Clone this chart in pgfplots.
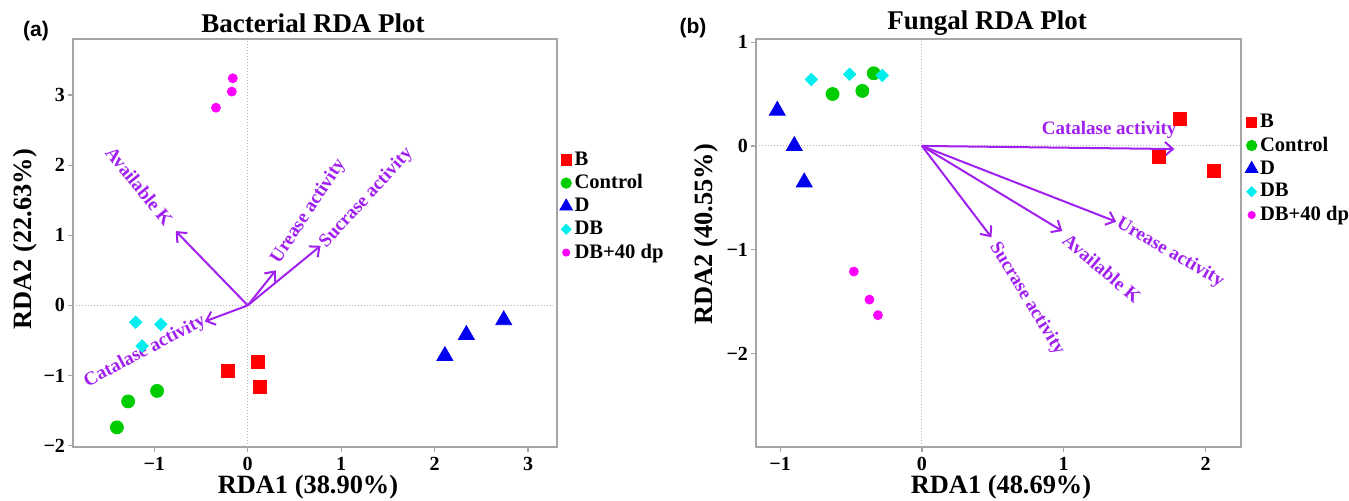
\documentclass[border=0pt]{standalone}
\usepackage{fontspec}
\setmainfont{Liberation Serif}
\newfontfamily\arialfont{Liberation Sans}
\usepackage{pgfplots}
\pgfplotsset{compat=1.18}
\usetikzlibrary{arrows.meta}
\definecolor{rpurple}{RGB}{160,32,240}
\definecolor{rred}{RGB}{255,0,0}
\definecolor{rgreen}{RGB}{0,205,0}
\definecolor{rblue}{RGB}{0,0,238}
\definecolor{rcyan}{RGB}{0,238,238}
\definecolor{rmag}{RGB}{255,0,255}
\tikzset{lab/.style={rpurple, font=\fontsize{9.5}{11}\selectfont\bfseries, inner sep=0pt}}
\pgfplotsset{
  rdastyle/.style={
    scale only axis, width=242pt, height=204pt,
    axis line style={gray!70, line width=0.6pt},
    tick style={gray!70, line width=0.6pt},
    tick align=outside, major tick length=2.5pt,
    xtick pos=bottom, ytick pos=left,
    tick label style={font=\fontsize{10}{12}\selectfont\bfseries},
    xticklabel style={yshift=1pt},
    yticklabel style={xshift=2pt},
    legend cell align=left,
    legend style={draw=none, fill=none, font=\fontsize{10.3}{12}\selectfont\bfseries, inner sep=0pt, row sep=1.2pt, nodes={inner sep=1pt}},
    legend image code/.code={\draw[##1, every mark/.append style={scale=0.8}] plot coordinates {(0.1cm,0cm)};},
  },
  arr/.style={rpurple, line width=1pt, -{Straight Barb[length=4pt,width=7pt,line width=1pt]}, forget plot},
  zl/.style={gray!60, densely dotted, line width=0.5pt, forget plot},
}
\begin{document}
\begin{tikzpicture}
\useasboundingbox (0,0) rectangle (674.5pt,250pt);
% ---------------- Left panel ----------------
\begin{axis}[rdastyle, at={(36.5pt,26.5pt)}, anchor=south west,
  xmin=-1.87, xmax=3.31, ymin=-2.02, ymax=3.80,
  xtick={-1,0,1,2,3}, xticklabels={−1,0,1,2,3},
  ytick={-2,-1,0,1,2,3}, yticklabels={−2,−1,0,1,2,3},
  legend style={at={(1.005,0.73)}, anchor=north west}]
\addplot[zl] coordinates {(-1.87,0) (3.31,0)};
\addplot[zl] coordinates {(0,-2.02) (0,3.80)};
\addplot[only marks, mark=square*, mark size=3.25pt, color=rred] coordinates {(-0.21,-0.94) (0.11,-0.81) (0.13,-1.16)};
\addlegendentry{B}
\addplot[only marks, mark=*, mark size=3.25pt, color=rgreen] coordinates {(-0.97,-1.22) (-1.28,-1.37) (-1.40,-1.74)};
\addlegendentry{Control}
\addplot[only marks, mark=triangle*, mark size=4.6pt, color=rblue] coordinates {(2.11,-0.72) (2.34,-0.42) (2.74,-0.21)};
\addlegendentry{D}
\addplot[only marks, mark=square*, mark size=2.2pt, mark options={rotate=45}, color=rcyan] coordinates {(-1.20,-0.24) (-0.93,-0.27) (-1.13,-0.58)};
\addlegendentry{DB}
\addplot[only marks, mark=*, mark size=2.25pt, color=rmag] coordinates {(-0.16,3.24) (-0.17,3.05) (-0.34,2.82)};
\addlegendentry{DB+40 dp}
\addplot[arr] coordinates {(0,0) (-0.77,1.06)};
\addplot[arr] coordinates {(0,0) (0.30,0.50)};
\addplot[arr] coordinates {(0,0) (0.78,0.85)};
\addplot[arr] coordinates {(0,0) (-0.46,-0.23)};
\node[lab, rotate=-51] at (axis cs:-1.16,1.70) {Available K};
\node[lab, rotate=56.6] at (axis cs:0.65,1.34) {Urease activity};
\node[lab, rotate=47.5] at (axis cs:1.27,1.53) {Sucrase activity};
\node[lab, rotate=27.9] at (axis cs:-1.10,-0.66) {Catalase activity};
\end{axis}
% ---------------- Right panel ----------------
\begin{axis}[rdastyle, at={(378pt,26.5pt)}, anchor=south west, width=242.5pt,
  xmin=-1.17, xmax=2.25, ymin=-2.90, ymax=1.03,
  xtick={-1,0,1,2}, xticklabels={−1,0,1,2},
  ytick={-2,-1,0,1}, yticklabels={−2,−1,0,1},
  legend style={at={(1.008,0.822)}, anchor=north west}]
\addplot[zl] coordinates {(-1.17,0) (2.25,0)};
\addplot[zl] coordinates {(0,-2.90) (0,1.03)};
\addplot[only marks, mark=square*, mark size=3.25pt, color=rred] coordinates {(1.82,0.26) (1.67,-0.11) (2.06,-0.24)};
\addlegendentry{B}
\addplot[only marks, mark=*, mark size=3.25pt, color=rgreen] coordinates {(-0.63,0.50) (-0.42,0.53) (-0.34,0.70)};
\addlegendentry{Control}
\addplot[only marks, mark=triangle*, mark size=4.6pt, color=rblue] coordinates {(-1.02,0.34) (-0.90,0.00) (-0.83,-0.35)};
\addlegendentry{D}
\addplot[only marks, mark=square*, mark size=2.2pt, mark options={rotate=45}, color=rcyan] coordinates {(-0.78,0.64) (-0.51,0.69) (-0.28,0.68)};
\addlegendentry{DB}
\addplot[only marks, mark=*, mark size=2.25pt, color=rmag] coordinates {(-0.48,-1.21) (-0.37,-1.48) (-0.31,-1.63)};
\addlegendentry{DB+40 dp}
\addplot[arr] coordinates {(0,0) (1.78,-0.03)};
\addplot[arr] coordinates {(0,0) (1.37,-0.73)};
\addplot[arr] coordinates {(0,0) (0.99,-0.82)};
\addplot[arr] coordinates {(0,0) (0.49,-0.88)};
\node[lab] at (axis cs:1.32,0.15) {Catalase activity};
\node[lab, rotate=-30] at (axis cs:1.75,-1.03) {Urease activity};
\node[lab, rotate=-40] at (axis cs:1.27,-1.18) {Available K};
\node[lab, rotate=-58.7] at (axis cs:0.74,-1.47) {Sucrase activity};
\end{axis}
% ---------------- Titles and labels ----------------
\node[font=\fontsize{13.5}{15}\selectfont\bfseries] at (156.5pt,238.5pt) {Bacterial RDA Plot};
\node[font=\fontsize{13.5}{15}\selectfont\bfseries] at (493.5pt,238.5pt) {Fungal RDA Plot};
\node[font=\arialfont\fontsize{10.5}{12}\selectfont\bfseries] at (18pt,234.5pt) {(a)};
\node[font=\arialfont\fontsize{10.5}{12}\selectfont\bfseries] at (346.5pt,236pt) {(b)};
\node[font=\fontsize{13.2}{15}\selectfont\bfseries] at (154pt,6.5pt) {RDA1 (38.90\%)};
\node[font=\fontsize{13.2}{15}\selectfont\bfseries] at (500.5pt,6.5pt) {RDA1 (48.69\%)};
\node[font=\fontsize{13.2}{15}\selectfont\bfseries, rotate=90] at (12.5pt,130.5pt) {RDA2 (22.63\%)};
\node[font=\fontsize{13.2}{15}\selectfont\bfseries, rotate=90] at (353pt,133pt) {RDA2 (40.55\%)};
\end{tikzpicture}
\end{document}
